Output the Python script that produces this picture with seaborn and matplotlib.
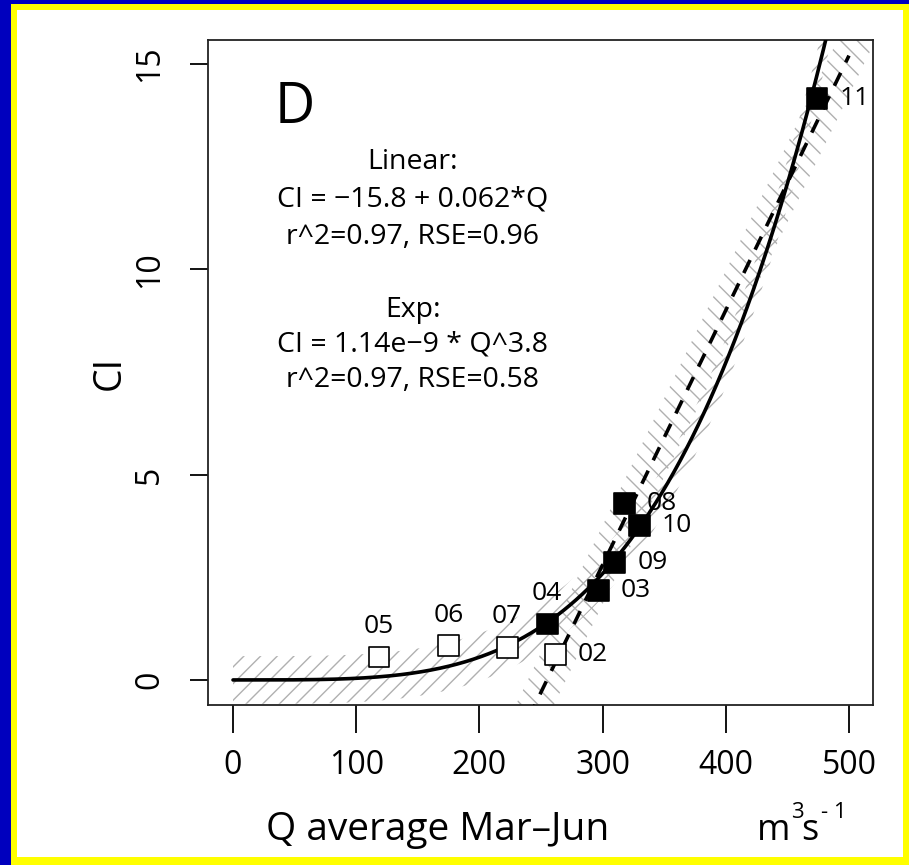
import numpy as np
import pandas as pd
import matplotlib
matplotlib.use("Agg")
import matplotlib.pyplot as plt
from matplotlib.patches import Rectangle
import seaborn as sns

# ---- data ----
years = ["02", "03", "04", "05", "06", "07", "08", "09", "10", "11"]
q_avg = [262, 297, 255, 118.5, 175, 222.5, 318, 310, 330, 474]
ci = [0.61, 2.17, 1.36, 0.56, 0.83, 0.80, 4.29, 2.85, 3.75, 14.15]
kind = ["open", "filled", "filled", "open", "open", "open", "filled", "filled", "filled", "filled"]
label_pos = ["right", "right", "above", "above", "above", "above", "right", "right", "right", "right"]

lin_a, lin_b, lin_rse = -15.8, 0.062, 0.96
exp_a, exp_b, exp_rse = 1.0e-9, 3.8, 0.58

x_ticks = [0, 100, 200, 300, 400, 500]
y_ticks = [0, 5, 10, 15]

eq_lines = ["Linear:", "CI = \u221215.8 + 0.062*Q", "r^2=0.97, RSE=0.96",
            "Exp:", "CI = 1.14e\u22129 * Q^3.8", "r^2=0.97, RSE=0.58"]

sns.set_style("white")
plt.rcParams["font.family"] = ["Open Sans", "DejaVu Sans"]
plt.rcParams["mathtext.fontset"] = "custom"
plt.rcParams["mathtext.rm"] = "Open Sans"
plt.rcParams["hatch.linewidth"] = 1.0
plt.rcParams["hatch.color"] = "#b0b0b0"
for k in ["text.color", "axes.labelcolor", "xtick.color", "ytick.color"]:
    plt.rcParams[k] = "black"

W, H = 909, 865
fig = plt.figure(figsize=(W / 100, H / 100), dpi=100)
fig.patch.set_facecolor("#0000BE")
fig.patches.append(Rectangle((11 / W, 0), (W - 11) / W, (H - 4) / H,
                             transform=fig.transFigure, facecolor="#FFFF00",
                             edgecolor="none", zorder=-3))
fig.patches.append(Rectangle((17 / W, 8 / H), (903 - 17) / W, (857 - 10) / H,
                             transform=fig.transFigure, facecolor="white",
                             edgecolor="none", zorder=-2))

ax = fig.add_axes([208 / W, (H - 705) / H, 665 / W, 665 / H])
ax.set_facecolor("white")

# bands
qg = np.linspace(0, 500, 600)
exp_fit = exp_a * qg ** exp_b
ax.fill_between(qg, exp_fit - exp_rse, exp_fit + exp_rse, facecolor="none",
                edgecolor="#b0b0b0", hatch="//", linewidth=0, zorder=1)
ql = np.linspace(215, 520, 300)
lin_fit = lin_a + lin_b * ql
ax.fill_between(ql, lin_fit - lin_rse, lin_fit + lin_rse, facecolor="none",
                edgecolor="#b0b0b0", hatch="\\\\", linewidth=0, zorder=1)

# fitted lines
qe = np.linspace(0, 495, 600)
sns.lineplot(x=qe, y=exp_a * qe ** exp_b, color="black", linewidth=2.6, ax=ax, zorder=3)
qd = np.linspace(240, 500, 200)
sns.lineplot(x=qd, y=lin_a + lin_b * qd, color="black", linewidth=2.6, ax=ax, zorder=3)
ax.lines[-1].set_dashes((4, 3.2))

# points
df = pd.DataFrame({"Q": q_avg, "CI": ci, "kind": kind, "year": years, "pos": label_pos})
sns.scatterplot(data=df, x="Q", y="CI", hue="kind",
                palette={"filled": "black", "open": "white"},
                marker="s", s=225, edgecolor="black", linewidth=1.2,
                legend=False, ax=ax, zorder=4)

for _, r in df.iterrows():
    if r["pos"] == "above":
        ax.annotate(r["year"], (r["Q"], r["CI"]), xytext=(0, 22), textcoords="offset points",
                    ha="center", va="center", fontsize=19, zorder=5)
    else:
        ax.annotate(r["year"], (r["Q"], r["CI"]), xytext=(16, 0), textcoords="offset points",
                    ha="left", va="center", fontsize=19, zorder=5)

# texts
ax.text(0.131, 0.8977, "D", transform=ax.transAxes, ha="center", va="center", fontsize=40)
ys = [0.8165, 0.7594, 0.7038, 0.594, 0.5414, 0.4887]
for t, yy in zip(eq_lines, ys):
    ax.text(0.308, yy, t, transform=ax.transAxes, ha="center", va="center", fontsize=20.5)

# axes
ax.set_xlim(-20.3, 519.5)
ax.set_ylim(-0.61, 15.58)
ax.set_xticks(x_ticks)
ax.set_yticks(y_ticks)
ax.set_xticklabels([str(v) for v in x_ticks])
ax.set_yticklabels([str(v) for v in y_ticks])
ax.tick_params(axis="x", length=20, width=1.3, pad=12, labelsize=23, direction="out",
               bottom=True, color="black")
ax.tick_params(axis="y", length=13, width=1.3, pad=17, labelsize=23, direction="out",
               left=True, labelrotation=90, color="black")
for lab in ax.get_yticklabels():
    lab.set_va("center")
for sp in ax.spines.values():
    sp.set_visible(True)
    sp.set_linewidth(1.3)
    sp.set_color("#222222")

ax.set_xlabel("")
ax.set_ylabel("CI", fontsize=27)
ax.yaxis.set_label_coords((110 - 208) / 665, 0.5)
ax.yaxis.label.set_va("center")

fig.text(438 / W, 1 - 840 / H, "Q average Mar\u2013Jun", ha="center", va="baseline", fontsize=28)
fig.text(757 / W, 1 - 840 / H, "m", ha="left", va="baseline", fontsize=26)
fig.text(791 / W, 1 - 818 / H, "3", ha="left", va="baseline", fontsize=16)
fig.text(801 / W, 1 - 840 / H, "s", ha="left", va="baseline", fontsize=26)
fig.text(821 / W, 1 - 818 / H, "- 1", ha="left", va="baseline", fontsize=16)

fig.savefig("out.png", dpi=100, facecolor=fig.get_facecolor())
